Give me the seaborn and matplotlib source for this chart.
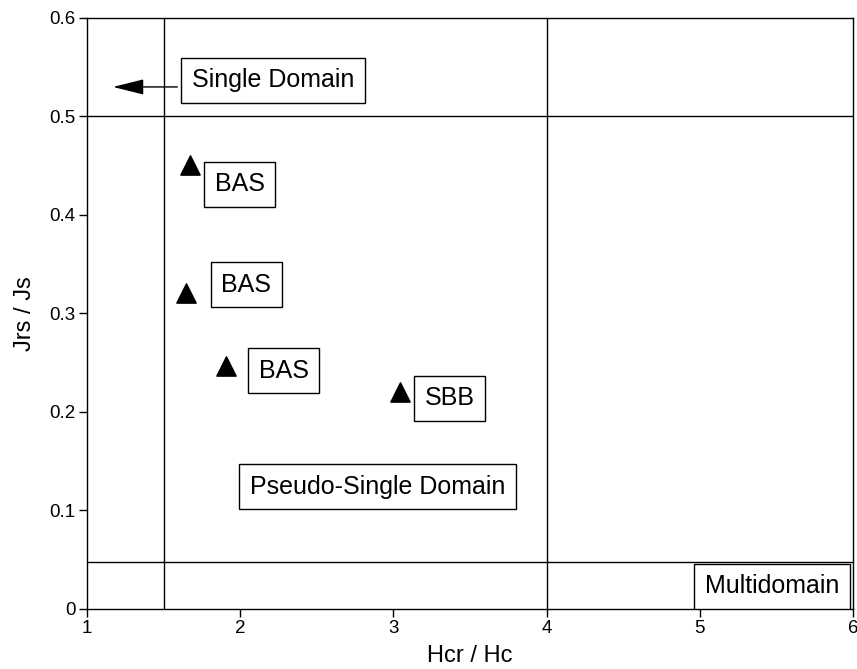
import matplotlib
matplotlib.use("Agg")
import matplotlib.pyplot as plt
import seaborn as sns
import pandas as pd

sns.set_theme(style="ticks")
plt.rcParams['font.family'] = ['Liberation Sans', 'DejaVu Sans']

# data
hcr_hc = [1.67, 1.645, 1.91, 3.04]
jrs_js = [0.451, 0.321, 0.247, 0.220]
samples = ["BAS", "BAS", "BAS", "SBB"]

# labels: text, x, y (left / vertical center)
label_texts = ["BAS", "BAS", "BAS", "SBB", "Single Domain", "Pseudo-Single Domain", "Multidomain"]
label_x = [1.835, 1.875, 2.12, 3.206, 1.685, 2.064, 5.034]
label_y = [0.431, 0.329, 0.242, 0.214, 0.537, 0.124, 0.023]

hlines = [0.5, 0.048]
vlines = [1.5, 4.0]

xticks = [1, 2, 3, 4, 5, 6]
yticks = [0, 0.1, 0.2, 0.3, 0.4, 0.5, 0.6]
yticklabels = ["0", "0.1", "0.2", "0.3", "0.4", "0.5", "0.6"]

df = pd.DataFrame({"Hcr / Hc": hcr_hc, "Jrs / Js": jrs_js, "sample": samples})

fig = plt.figure(figsize=(8.57, 6.69), dpi=100)
ax = fig.add_axes([0.1015, 0.0897, 0.8938, 0.8834])

for y in hlines:
    ax.axhline(y, color="black", lw=1.0)
for x in vlines:
    ax.axvline(x, color="black", lw=1.0)

sns.scatterplot(data=df, x="Hcr / Hc", y="Jrs / Js", marker="^", s=190,
                color="black", edgecolor="black", ax=ax, zorder=5, legend=False)

for t, x, y in zip(label_texts, label_x, label_y):
    ax.text(x, y, t, fontsize=18, ha="left", va="center", color="black",
            bbox=dict(boxstyle="square,pad=0.42", fc="white", ec="black", lw=1.0),
            zorder=6, clip_on=True)

ax.annotate("", xy=(1.17, 0.53), xytext=(1.59, 0.53),
            arrowprops=dict(arrowstyle="-|>,head_length=1.6,head_width=0.4",
                            color="black", lw=1.0, shrinkA=0, shrinkB=0))

ax.set_xlim(1, 6)
ax.set_ylim(0, 0.6)
ax.set_xticks(xticks)
ax.set_xticklabels([str(v) for v in xticks])
ax.set_yticks(yticks)
ax.set_yticklabels(yticklabels)
ax.tick_params(axis="both", direction="out", length=6, width=1, labelsize=13.5,
               colors="black", pad=2)
ax.set_xlabel("Hcr / Hc", fontsize=17, color="black", labelpad=6)
ax.set_ylabel("Jrs / Js", fontsize=17, color="black", labelpad=10)
for sp in ax.spines.values():
    sp.set_color("black")
    sp.set_linewidth(1.0)
ax.set_facecolor("white")
fig.patch.set_facecolor("white")

fig.savefig("out.png", dpi=100)
